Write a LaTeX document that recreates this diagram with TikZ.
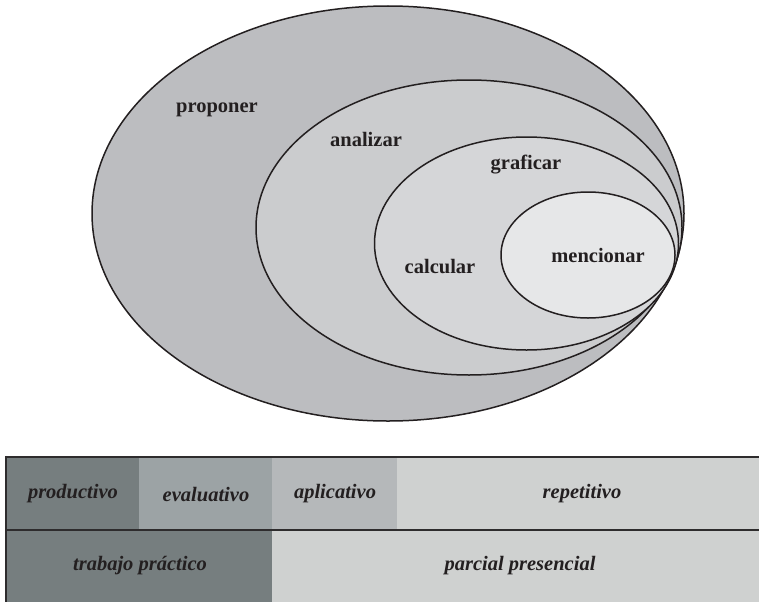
\documentclass[tikz,border=0pt]{standalone}
\usepackage{fontspec}
\setmainfont{Liberation Serif}
\usetikzlibrary{shapes.geometric}
\definecolor{ink}{HTML}{231F20}
\definecolor{eOne}{HTML}{BCBDC0}
\definecolor{eTwo}{HTML}{CBCCCE}
\definecolor{eThree}{HTML}{D5D6D8}
\definecolor{eFour}{HTML}{E6E7E8}
\definecolor{cDark}{HTML}{767E7F}
\definecolor{cMid}{HTML}{9CA3A5}
\definecolor{cLight}{HTML}{B5B8BA}
\definecolor{cPale}{HTML}{CFD1D0}
\definecolor{rule}{HTML}{2E2C2D}
\tikzset{
  setring/.style={ellipse, draw=ink, line width=1.5pt, inner sep=0pt},
  setlabel/.style={text=ink, font=\fontsize{20.5}{24}\selectfont\bfseries, inner sep=0pt},
  celllabel/.style={text=ink, font=\fontsize{20.5}{24}\selectfont\bfseries\itshape, inner sep=0pt},
  tablerule/.style={draw=rule, line width=2.2pt}
}
\begin{document}
\begin{tikzpicture}[x=1pt,y=-1pt]
\useasboundingbox (0,0) rectangle (759,602);
% nested sets
\node[setring, fill=eOne, minimum width=592pt, minimum height=415pt] (eproponer) at (388,213.5) {};
\node[setring, fill=eTwo, minimum width=426pt, minimum height=295pt] (eanalizar) at (469,227.5) {};
\node[setring, fill=eThree, minimum width=304pt, minimum height=213pt] (egraficar) at (526.5,243.5) {};
\node[setring, fill=eFour, minimum width=174pt, minimum height=126pt] (emencionar) at (588,255) {};
\node[setlabel] (tproponer) at (217,110) {proponer};
\node[setlabel] (tanalizar) at (366,139) {analizar};
\node[setlabel] (tgraficar) at (526,165) {graficar};
\node[setlabel] (tcalcular) at (440,267) {calcular};
\node[setlabel] (tmencionar) at (598,255) {mencionar};
% table cells
\fill[cDark] (6,457) rectangle (139,530);
\fill[cMid] (139,457) rectangle (272,530);
\fill[cLight] (272,457) rectangle (397,530);
\fill[cPale] (397,457) rectangle (759,530);
\fill[cDark] (6,530) rectangle (272,602);
\fill[cPale] (272,530) rectangle (759,602);
\coordinate (tl) at (6,457);
\coordinate (tr) at (759,457);
\coordinate (ml) at (6,530);
\coordinate (mr) at (759,530);
\coordinate (bl) at (6,602);
\draw[tablerule] (tl) -- (tr);
\draw[tablerule] (ml) -- (mr);
\draw[tablerule] ([yshift=1.1pt]tl) -- (bl);
\node[celllabel] (productivo) at (73,494) {productivo};
\node[celllabel] (evaluativo) at (206,494) {evaluativo};
\node[celllabel] (aplicativo) at (335,494) {aplicativo};
\node[celllabel] (repetitivo) at (582,494) {repetitivo};
\node[celllabel] (trabajo) at (140,566) {trabajo práctico};
\node[celllabel] (parcial) at (520,566) {parcial presencial};
\end{tikzpicture}
\end{document}
